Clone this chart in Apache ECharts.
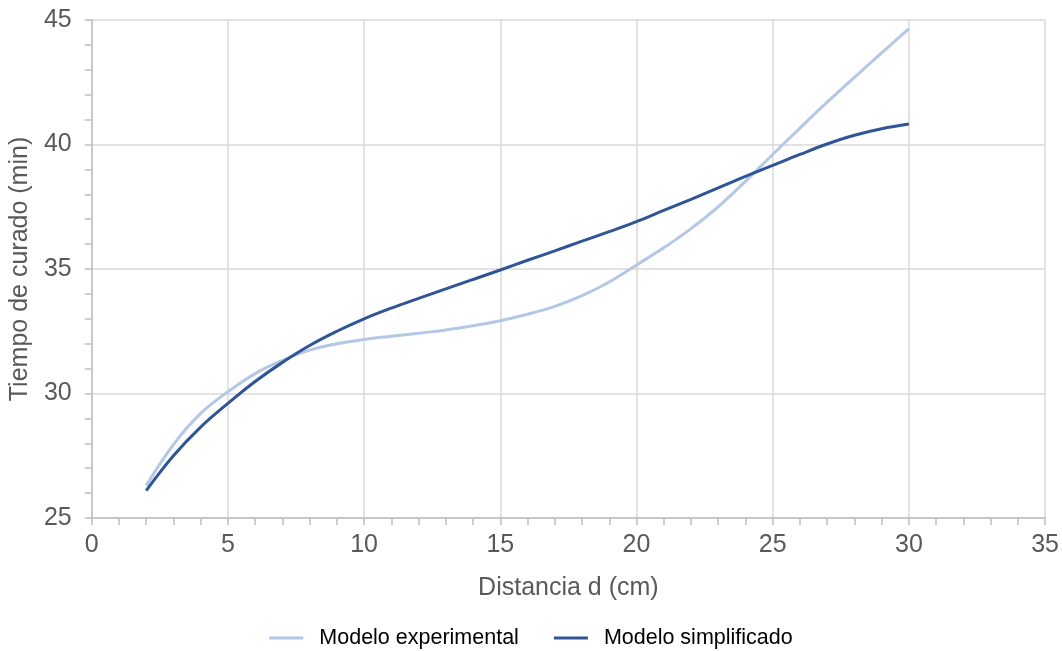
<!DOCTYPE html>
<html>
<head>
<meta charset="utf-8">
<script src="https://cdn.jsdelivr.net/npm/echarts@6/dist/echarts.min.js"></script>
<style>
  html, body { margin: 0; padding: 0; background: #ffffff; }
  #chart { width: 1062px; height: 651px; }
</style>
</head>
<body>
<div id="chart"></div>
<script>
// Distance (cm) at which each curing time is evaluated
const distancia = [2, 3, 4, 5, 6, 7, 8, 9, 10, 11, 12, 13, 14, 15, 16,
                   17, 18, 19, 20, 21, 22, 23, 24, 25, 26, 27, 28, 29, 30];

// Curing time (min), experimental model
const modeloExperimental = [26.3, 27.95, 29.2, 30.07, 30.8, 31.33, 31.74, 32.0, 32.17, 32.3,
                            32.42, 32.55, 32.72, 32.92, 33.18, 33.5, 33.93, 34.48, 35.16, 35.85,
                            36.62, 37.5, 38.52, 39.6, 40.66, 41.7, 42.7, 43.68, 44.65];

// Curing time (min), simplified model
const modeloSimplificado = [26.1, 27.5, 28.65, 29.6, 30.48, 31.25, 31.93, 32.5, 33.0, 33.43,
                            33.82, 34.2, 34.58, 34.96, 35.35, 35.73, 36.12, 36.5, 36.9, 37.35,
                            37.8, 38.26, 38.72, 39.16, 39.6, 40.02, 40.37, 40.63, 40.82];

const nombresSeries = ['Modelo experimental', 'Modelo simplificado'];
const tituloX = 'Distancia d (cm)';
const tituloY = 'Tiempo de curado (min)';

const pares = (ys) => distancia.map((x, i) => [x, ys[i]]);

const textGray = '#595959';
const axisGray = '#bfbfbf';
const gridGray = '#d9d9d9';
const colorExp = '#b4c7e7';
const colorSimp = '#2f5597';
const fontFamily = 'Liberation Sans, Arial, sans-serif';

const chart = echarts.init(document.getElementById('chart'), null, { renderer: 'canvas' });

const ejeComun = {
  axisLine: { show: true, lineStyle: { color: axisGray, width: 1.5 } },
  axisTick: { show: true, length: 7, lineStyle: { color: axisGray, width: 1.5 } },
  minorTick: { show: true, splitNumber: 5, length: 7, lineStyle: { color: axisGray, width: 1.5 } },
  splitLine: { show: true, lineStyle: { color: gridGray, width: 1.5 } },
  nameLocation: 'middle',
  nameTextStyle: { color: textGray, fontSize: 25, fontFamily: fontFamily }
};

chart.setOption({
  animation: false,
  backgroundColor: '#ffffff',
  textStyle: { fontFamily: fontFamily },
  grid: { left: 91, top: 20, right: 16, bottom: 133, containLabel: false },
  legend: {
    top: 622,
    left: 'center',
    icon: 'rect',
    itemWidth: 34,
    itemHeight: 3,
    itemGap: 35,
    textStyle: { color: '#000000', fontSize: 21.5, fontFamily: fontFamily, padding: [0, 0, 0, 11] },
    data: nombresSeries
  },
  xAxis: Object.assign({}, ejeComun, {
    type: 'value',
    min: 0, max: 35, interval: 5,
    name: tituloX,
    nameGap: 58,
    axisLabel: { color: textGray, fontSize: 25, margin: 15, fontFamily: fontFamily }
  }),
  yAxis: Object.assign({}, ejeComun, {
    type: 'value',
    min: 25, max: 45, interval: 5,
    name: tituloY,
    nameGap: 56,
    axisLabel: { color: textGray, fontSize: 25, margin: 20, fontFamily: fontFamily }
  }),
  series: [
    {
      name: nombresSeries[0],
      type: 'line',
      data: pares(modeloExperimental),
      smooth: 0.4,
      symbol: 'none',
      lineStyle: { color: colorExp, width: 3 },
      itemStyle: { color: colorExp },
      z: 2
    },
    {
      name: nombresSeries[1],
      type: 'line',
      data: pares(modeloSimplificado),
      smooth: 0.4,
      symbol: 'none',
      lineStyle: { color: colorSimp, width: 3 },
      itemStyle: { color: colorSimp },
      z: 3
    }
  ]
});
</script>
</body>
</html>
